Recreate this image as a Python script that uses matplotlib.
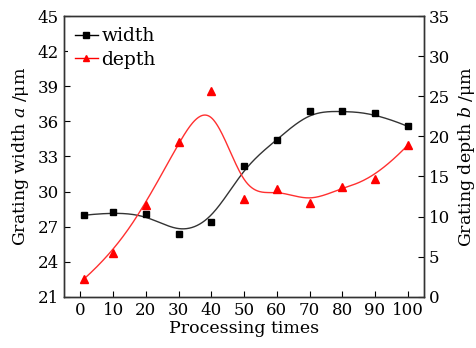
import numpy as np
import matplotlib
matplotlib.use("Agg")
import matplotlib.pyplot as plt

# data
times = [1, 10, 20, 30, 40, 50, 60, 70, 80, 90, 100]
width = [27.97, 28.23, 28.12, 26.37, 27.4, 32.16, 34.4, 36.86, 36.86, 36.72, 35.57]
depth = [2.2, 5.5, 11.5, 19.3, 25.6, 12.2, 13.5, 11.7, 13.7, 14.7, 18.9]
xticks = [0, 10, 20, 30, 40, 50, 60, 70, 80, 90, 100]


def bspline(xs, ys, num=400):
    # clamped uniform cubic B-spline using the points as control points
    P = np.column_stack([xs, ys]).astype(float)
    n = len(P)
    k = 3
    inner = np.arange(1, n - k)
    knots = np.concatenate([[0] * (k + 1), inner, [n - k] * (k + 1)]).astype(float)
    t = np.linspace(0, n - k, num)
    t[-1] -= 1e-9
    # Cox-de Boor
    N = np.zeros((num, len(knots) - 1))
    for i in range(len(knots) - 1):
        N[:, i] = (t >= knots[i]) & (t < knots[i + 1])
    for d in range(1, k + 1):
        Nn = np.zeros((num, len(knots) - 1 - d))
        for i in range(len(knots) - 1 - d):
            a = knots[i + d] - knots[i]
            b = knots[i + d + 1] - knots[i + 1]
            term = 0
            if a > 0:
                term = term + (t - knots[i]) / a * N[:, i]
            if b > 0:
                term = term + (knots[i + d + 1] - t) / b * N[:, i + 1]
            Nn[:, i] = term
        N = Nn
    C = N @ P
    return C[:, 0], C[:, 1]


plt.rcParams['font.family'] = ['DejaVu Serif']
plt.rcParams['mathtext.fontset'] = 'dejavuserif'
plt.rcParams['xtick.direction'] = 'in'
plt.rcParams['ytick.direction'] = 'in'

fig = plt.figure(figsize=(4.76, 3.48), dpi=100)
ax = fig.add_axes([0.134, 0.147, 0.757, 0.807])
ax2 = ax.twinx()

bx, by = bspline(times, width)
ax.plot(bx, by, color='#333333', lw=1.0)
ax.plot(times, width, 's', color='black', ms=4.5)
ax.plot([], [], '-s', color='black', lw=1.0, ms=4, label='width')
ax.plot([], [], '-^', color='red', lw=1.0, ms=4.5, label='depth')

rx, ry = bspline(times, depth)
ax2.plot(rx, ry, color='#ff3030', lw=1.0)
ax2.plot(times, depth, '^', color='red', ms=5.5)

ax.set_xlim(-5.1, 105)
ax.set_ylim(21, 45)
ax.set_yticks(np.arange(21, 46, 3))
ax.set_xticks(xticks)
ax2.set_ylim(0, 35)
ax2.set_yticks(np.arange(0, 36, 5))

ax.tick_params(labelsize=12, length=4, top=False)
ax2.tick_params(labelsize=12, length=4)

ax.set_xlabel('Processing times', fontsize=12.5, labelpad=1)
ax.set_ylabel(r'Grating width $a$ /μm', fontsize=12.5, labelpad=5)
ax2.set_ylabel(r'Grating depth $b$ /μm', fontsize=12.5, labelpad=4)

for a in (ax, ax2):
    for s in a.spines.values():
        s.set_color('#333333')
        s.set_linewidth(1.0)

leg = ax.legend(loc='upper left', fontsize=13.5, frameon=True, facecolor='white',
                edgecolor='none', framealpha=1, handlelength=1.2, handletextpad=0.2,
                borderpad=0.35, labelspacing=0.3, borderaxespad=0.25)

fig.savefig('out.png', dpi=100)
